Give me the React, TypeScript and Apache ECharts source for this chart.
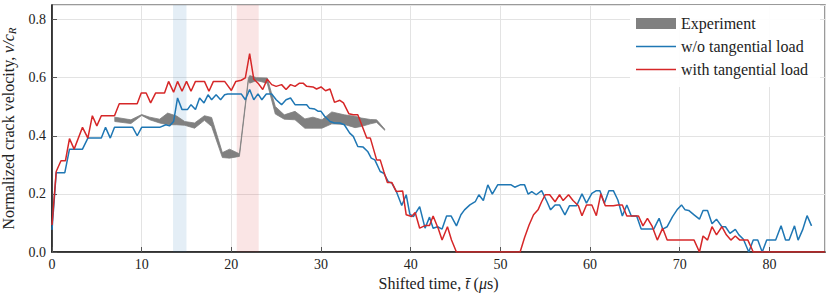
import React, { useEffect, useRef } from "react";
import * as echarts from "echarts";

// ---- data ----
const woT = [0, 0.47, 1.43, 1.95, 3.4, 4.0, 5.5, 5.97, 6.5, 6.97, 9.0, 9.5, 10.0, 12.0, 12.7, 13.1, 13.56, 14.0, 14.5, 15.1, 15.5, 16.0, 16.46, 16.95, 17.4, 17.8, 18.3, 18.8, 19.25, 19.6, 21.1, 21.56, 22.04, 22.5, 22.97, 23.4, 23.9, 24.5, 25.0, 25.6, 26.1, 26.6, 27.1, 28.4, 28.7, 29.3, 29.7, 30.0, 30.4, 31.0, 31.5, 32.1, 32.6, 33.2, 33.6, 34.1, 34.7, 35.2, 35.6, 36.0, 36.6, 37.0, 37.5, 37.9, 38.4, 39.0, 39.5, 39.9, 40.3, 41.0, 41.6, 42.1, 42.5, 43.0, 43.5, 44.0, 44.5, 45.1, 45.6, 46.0, 46.6, 47.2, 47.6, 48.1, 48.6, 49.1, 49.7, 51.2, 51.6, 52.2, 52.7, 53.1, 53.5, 54.0, 54.6, 55.2, 55.6, 56.1, 56.6, 57.2, 57.7, 58.5, 59.1, 59.6, 60.2, 60.7, 61.1, 61.6, 62.1, 62.6, 63.1, 63.6, 64.1, 64.6, 65.2, 65.7, 67.1, 67.7, 68.1, 68.6, 69.2, 69.7, 70.2, 70.6, 71.0, 71.6, 72.2, 72.6, 73.1, 73.6, 74.1, 74.7, 75.1, 75.6, 76.2, 76.6, 77.1, 77.7, 78.2, 78.7, 79.2, 79.7, 80.7, 81.3, 81.8, 82.2, 82.8, 83.2, 83.7, 84.2, 84.7];
const woV = [0.076, 0.273, 0.273, 0.354, 0.354, 0.392, 0.392, 0.429, 0.392, 0.429, 0.429, 0.4, 0.429, 0.429, 0.438, 0.434, 0.449, 0.53, 0.49, 0.49, 0.507, 0.49, 0.53, 0.513, 0.541, 0.524, 0.541, 0.524, 0.541, 0.544, 0.544, 0.524, 0.559, 0.524, 0.544, 0.524, 0.544, 0.544, 0.524, 0.507, 0.524, 0.53, 0.507, 0.507, 0.495, 0.492, 0.484, 0.484, 0.467, 0.449, 0.444, 0.444, 0.438, 0.409, 0.398, 0.363, 0.361, 0.346, 0.323, 0.317, 0.277, 0.271, 0.242, 0.237, 0.208, 0.16, 0.197, 0.13, 0.122, 0.156, 0.082, 0.12, 0.082, 0.087, 0.079, 0.124, 0.124, 0.09, 0.128, 0.145, 0.162, 0.173, 0.197, 0.177, 0.231, 0.199, 0.231, 0.231, 0.223, 0.231, 0.231, 0.199, 0.208, 0.197, 0.211, 0.173, 0.145, 0.162, 0.162, 0.128, 0.159, 0.159, 0.2, 0.168, 0.202, 0.211, 0.211, 0.168, 0.211, 0.211, 0.179, 0.124, 0.162, 0.124, 0.124, 0.079, 0.079, 0.116, 0.079, 0.087, 0.122, 0.145, 0.162, 0.145, 0.143, 0.128, 0.113, 0.143, 0.143, 0.097, 0.113, 0.087, 0.087, 0.064, 0.078, 0.059, 0.044, 0.0, 0.041, 0.041, 0.0, 0.041, 0.041, 0.09, 0.041, 0.041, 0.09, 0.041, 0.076, 0.125, 0.09];

const wtT = [0, 0.47, 1.0, 1.5, 1.95, 2.47, 3.4, 4.0, 4.5, 5.0, 5.5, 6.97, 7.5, 9.5, 9.95, 10.5, 11.0, 11.55, 12.55, 13.0, 13.56, 14.0, 14.5, 15.0, 15.5, 16.0, 17.0, 17.5, 18.0, 19.25, 20.0, 20.5, 21.1, 21.56, 22.04, 22.5, 22.97, 23.5, 24.0, 24.5, 25.0, 25.6, 26.1, 26.6, 27.1, 27.6, 28.0, 28.4, 29.1, 29.5, 30.0, 30.5, 31.0, 31.5, 32.1, 32.5, 33.1, 33.6, 34.1, 35.1, 35.5, 36.2, 36.6, 37.0, 37.4, 37.9, 38.4, 39.1, 39.5, 40.1, 40.5, 41.0, 41.6, 42.1, 42.5, 43.1, 43.5, 44.1, 44.55, 45.1, 52.2, 52.7, 53.2, 53.7, 54.2, 54.6, 55.0, 55.5, 56.1, 56.6, 57.0, 57.6, 58.1, 58.7, 59.1, 59.6, 60.2, 60.7, 61.2, 61.7, 62.6, 63.1, 63.6, 64.1, 65.4, 65.9, 66.4, 66.9, 67.5, 68.1, 68.6, 71.6, 72.2, 72.6, 73.1, 73.6, 74.1, 74.7, 75.2, 75.7, 76.2, 76.7, 77.6, 78.2, 86.2];
const wtV = [0.093, 0.277, 0.314, 0.314, 0.39, 0.354, 0.429, 0.392, 0.469, 0.434, 0.469, 0.469, 0.51, 0.51, 0.547, 0.547, 0.513, 0.547, 0.547, 0.587, 0.55, 0.587, 0.553, 0.587, 0.553, 0.587, 0.587, 0.553, 0.587, 0.587, 0.556, 0.587, 0.591, 0.599, 0.683, 0.595, 0.581, 0.559, 0.595, 0.576, 0.57, 0.576, 0.559, 0.576, 0.57, 0.581, 0.581, 0.57, 0.568, 0.561, 0.568, 0.555, 0.561, 0.515, 0.522, 0.513, 0.476, 0.472, 0.472, 0.392, 0.392, 0.317, 0.317, 0.277, 0.239, 0.239, 0.208, 0.21, 0.128, 0.122, 0.136, 0.082, 0.091, 0.091, 0.124, 0.078, 0.041, 0.087, 0.041, 0.0, 0.0, 0.05, 0.093, 0.128, 0.145, 0.173, 0.197, 0.197, 0.173, 0.197, 0.177, 0.197, 0.177, 0.159, 0.125, 0.162, 0.162, 0.125, 0.2, 0.159, 0.159, 0.162, 0.162, 0.124, 0.124, 0.09, 0.116, 0.09, 0.041, 0.082, 0.041, 0.041, 0.0, 0.055, 0.041, 0.087, 0.059, 0.087, 0.059, 0.041, 0.055, 0.041, 0.041, 0.0, 0.0];

const expT = [7.0, 8.8, 10.0, 10.9, 12.0, 12.9, 13.9, 14.8, 15.9, 17.0, 17.8, 19.0, 19.8, 20.9, 21.9, 22.05, 22.8, 24.0, 24.9, 25.9, 27.1, 28.2, 29.1, 30.1, 31.2, 32.6, 33.8, 34.5, 35.5, 36.2, 37.1];
const expLow = [0.449, 0.442, 0.470, 0.455, 0.444, 0.438, 0.438, 0.436, 0.426, 0.453, 0.432, 0.325, 0.323, 0.329, 0.59, 0.581, 0.59, 0.581, 0.475, 0.457, 0.455, 0.426, 0.426, 0.426, 0.441, 0.439, 0.428, 0.432, 0.441, 0.446, 0.419];
const expHigh = [0.464, 0.455, 0.473, 0.464, 0.457, 0.478, 0.468, 0.449, 0.444, 0.469, 0.463, 0.342, 0.354, 0.338, 0.598, 0.607, 0.6, 0.599, 0.501, 0.472, 0.484, 0.458, 0.464, 0.455, 0.482, 0.472, 0.467, 0.461, 0.456, 0.455, 0.423];

const blueBand = [13.5, 15.0];
const redBand = [20.6, 23.05];

const xTicksInterval = 10;
const yTicksInterval = 0.2;

const FONT = "Liberation Serif, DejaVu Serif, serif";
const BLUE = "#1f77b4";
const RED = "#d62728";
const GRAY = "#808080";
const LINE_ICON = "path://M0,0L40,0L40,1.6L0,1.6Z";

export default function App() {
  const ref = useRef<HTMLDivElement>(null);
  useEffect(() => {
    if (!ref.current) return;
    const chart = echarts.init(ref.current, undefined, { renderer: "svg" });
    const pairs = (t: number[], v: number[]) => t.map((x, i) => [x, v[i]]);
    chart.setOption({
      animation: false,
      textStyle: { fontFamily: FONT },
      grid: {
        left: 52,
        right: 6,
        top: 5,
        bottom: 46,
        outerBoundsMode: "none",
        containLabel: false,
        show: true,
        borderColor: "#7a7a7a",
        borderWidth: 1.5,
        backgroundColor: "transparent",
      },
      legend: {
        orient: "vertical",
        left: 630,
        top: 5,
        width: 195,
        padding: [10, 12, 9, 6],
        itemGap: 6,
        itemWidth: 40,
        itemHeight: 11,
        backgroundColor: "rgba(255,255,255,0.9)",
        textStyle: { fontFamily: FONT, fontSize: 16, color: "#222", lineHeight: 17 },
        data: [
          { name: "Experiment", icon: "rect" },
          { name: "w/o tangential load", icon: LINE_ICON },
          { name: "with tangential load", icon: LINE_ICON },
        ],
      },
      xAxis: {
        type: "value",
        min: 0,
        max: 86.2,
        interval: xTicksInterval,
        name: "{a|Shifted time, }{i|t\u0304}{a| (}{i|\u03bc}{a|s)}",
        nameLocation: "middle",
        nameGap: 23,
        nameTextStyle: {
          rich: {
            a: { fontFamily: FONT, fontSize: 16, color: "#222" },
            i: { fontFamily: FONT, fontSize: 16, fontStyle: "italic", color: "#222" },
          },
        },
        axisLine: { show: true, onZero: false, lineStyle: { color: "#111", width: 1.5 } },
        axisTick: { show: true, inside: true, length: 5, lineStyle: { color: "#555" } },
        axisLabel: { showMaxLabel: false, fontFamily: FONT, fontSize: 14, color: "#222", margin: 5 },
        splitLine: { show: true, lineStyle: { color: "#e3e3e3", width: 1 } },
      },
      yAxis: {
        type: "value",
        min: 0,
        max: 0.85,
        interval: yTicksInterval,
        name: "{a|Normalized crack velocity, }{i|v/c}{s|R}",
        nameLocation: "middle",
        nameRotate: 90,
        nameGap: 30,
        nameTextStyle: {
          rich: {
            a: { fontFamily: FONT, fontSize: 16, color: "#222" },
            i: { fontFamily: FONT, fontSize: 16, fontStyle: "italic", color: "#222" },
            s: { fontFamily: FONT, fontSize: 11, fontStyle: "italic", color: "#222", padding: [7, 0, 0, 0] },
          },
        },
        axisLine: { show: true, onZero: false, lineStyle: { color: "#111", width: 1.5 } },
        axisTick: { show: true, inside: true, length: 5, lineStyle: { color: "#555" } },
        axisLabel: {
          showMaxLabel: false,
          fontFamily: FONT,
          fontSize: 14,
          color: "#222",
          margin: 6,
          formatter: (v: number) => v.toFixed(1),
        },
        splitLine: { show: true, lineStyle: { color: "#e3e3e3", width: 1 } },
      },
      series: [
        {
          name: "bands",
          type: "line",
          data: [],
          z: 1,
          markArea: {
            silent: true,
            data: [
              [
                { xAxis: blueBand[0], itemStyle: { color: "rgba(31,119,180,0.12)" } },
                { xAxis: blueBand[1] },
              ],
              [
                { xAxis: redBand[0], itemStyle: { color: "rgba(214,39,40,0.12)" } },
                { xAxis: redBand[1] },
              ],
            ],
          },
        },
        {
          name: "Experiment",
          type: "custom",
          z: 2,
          itemStyle: { color: GRAY },
          encode: { x: 0, y: [1, 2] },
          data: expT.map((t, i) => [t, expLow[i], expHigh[i]]),
          renderItem: (params: any, api: any) => {
            if (params.dataIndex !== 0) return null;
            const top = expT.map((t, i) => api.coord([t, expHigh[i]]));
            const bot = expT.map((t, i) => api.coord([t, expLow[i]])).reverse();
            return {
              type: "polygon",
              shape: { points: top.concat(bot) },
              style: { fill: GRAY, stroke: GRAY, lineWidth: 0.8 },
            };
          },
        },
        {
          name: "w/o tangential load",
          type: "line",
          symbol: "none",
          z: 3,
          itemStyle: { color: BLUE },
          lineStyle: { color: BLUE, width: 1.5 },
          data: pairs(woT, woV),
        },
        {
          name: "with tangential load",
          type: "line",
          symbol: "none",
          z: 4,
          itemStyle: { color: RED },
          lineStyle: { color: RED, width: 1.5 },
          data: pairs(wtT, wtV),
        },
      ],
    });
    return () => chart.dispose();
  }, []);
  return (
    <div
      ref={ref}
      style={{ position: "fixed", left: 0, top: 0, width: 831, height: 298, background: "#fff" }}
    />
  );
}
